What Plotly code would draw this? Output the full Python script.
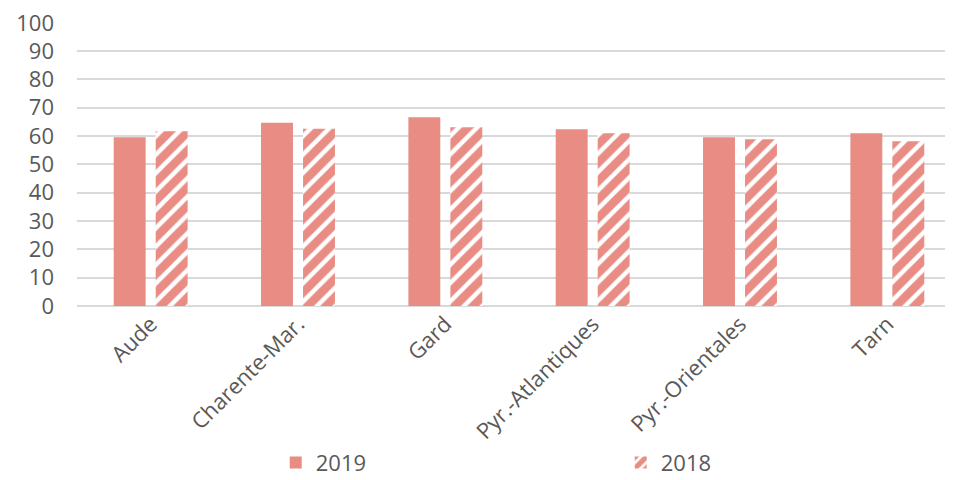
import plotly.graph_objects as go

categories = ["Aude", "Charente-Mar.", "Gard", "Pyr.-Atlantiques", "Pyr.-Orientales", "Tarn"]
values_2019 = [59.6, 64.7, 66.7, 62.4, 59.6, 61.0]
values_2018 = [61.7, 62.6, 63.1, 61.0, 58.9, 58.2]
y_ticks = [0, 10, 20, 30, 40, 50, 60, 70, 80, 90, 100]

color = "#E88C84"
text_color = "#595959"
font_family = "Open Sans, Noto Sans, sans-serif"

fig = go.Figure()
fig.add_trace(go.Bar(
    name="2019", x=categories, y=values_2019,
    marker=dict(color=color, line=dict(width=0)),
))
fig.add_trace(go.Bar(
    name="2018", x=categories, y=values_2018,
    marker=dict(color="white", line=dict(width=0),
                pattern=dict(shape="/", fgcolor=color, bgcolor="white", fgopacity=1,
                             size=13, solidity=0.65, fillmode="overlay")),
))

fig.update_layout(
    width=953, height=480,
    margin=dict(l=69, r=0, t=14, b=182, autoexpand=False),
    paper_bgcolor="white", plot_bgcolor="white",
    barmode="group", bargap=0.43, bargroupgap=0.24,
    font=dict(family=font_family, size=22, color=text_color),
    xaxis=dict(range=[-0.5, 5.5], tickangle=-45, showgrid=False, automargin=False,
               showline=False, ticks="", tickfont=dict(size=22, color=text_color)),
    yaxis=dict(range=[0, 100.3], tickvals=y_ticks, showgrid=True, automargin=False,
               gridcolor="#D9D9D9", gridwidth=1.5, zeroline=True,
               zerolinecolor="#D9D9D9", zerolinewidth=1.5,
               ticks="", ticklabelstandoff=22, ticklabeloverflow="allow",
               tickfont=dict(size=22, color=text_color)),
    legend=dict(orientation="h", x=0.2248, xanchor="left", y=-0.552, yanchor="middle",
                entrywidth=300, entrywidthmode="pixels",
                font=dict(size=22, color=text_color), traceorder="normal"),
    showlegend=True,
)

fig.write_html("out.html")
